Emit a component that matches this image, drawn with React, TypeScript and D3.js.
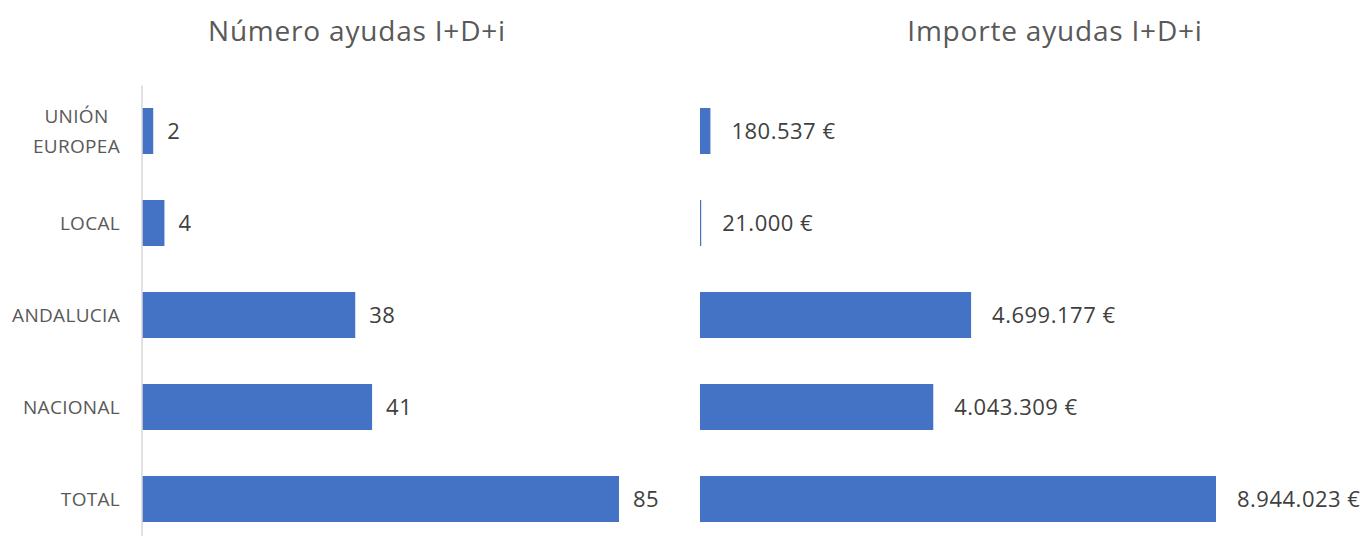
import React, { useRef, useEffect } from 'react';
import * as d3 from 'd3';

// categorías (de arriba a abajo)
const categorias = ['UNIÓN EUROPEA', 'LOCAL', 'ANDALUCIA', 'NACIONAL', 'TOTAL'];
const numeroAyudas = [2, 4, 38, 41, 85];
const importeAyudas = [180537, 21000, 4699177, 4043309, 8944023];
const titulos = ['Número ayudas I+D+i', 'Importe ayudas I+D+i'];

const FONT = '"Open Sans", "Segoe UI", sans-serif';
const AZUL = '#4472C4';

const fmtEuro = (v: number) =>
  d3.formatLocale({ decimal: ',', thousands: '.', grouping: [3], currency: ['', ' €'] }).format(',d')(v) + ' €';

const App = () => {
  const ref = useRef<SVGSVGElement>(null);

  useEffect(() => {
    const svg = d3.select(ref.current);
    svg.selectAll('*').remove();

    const y = d3.scaleBand<string>()
      .domain(categorias)
      .range([85, 545])
      .paddingInner(0.5)
      .paddingOuter(0.25);

    const paneles = [
      { datos: numeroAyudas, x0: 141, x1: 618, titleX: 357, gap: 15, fmt: (v: number) => String(v), eje: true },
      { datos: importeAyudas, x0: 700, x1: 1216, titleX: 1055, gap: 21, fmt: fmtEuro, eje: false },
    ];

    paneles.forEach((p, i) => {
      const x = d3.scaleLinear()
        .domain([0, d3.max(p.datos) as number])
        .range([p.x0, p.x1]);

      const g = svg.append('g');

      g.append('text')
        .attr('x', p.titleX)
        .attr('y', 41)
        .attr('text-anchor', 'middle')
        .style('font-family', FONT)
        .style('font-size', '28px')
        .style('letter-spacing', '0.8px')
        .style('fill', '#595959')
        .text(titulos[i]);

      g.selectAll('rect')
        .data(p.datos)
        .enter()
        .append('rect')
        .attr('x', x(0) + (p.eje ? 1 : 0))
        .attr('y', (d, j) => y(categorias[j]) as number)
        .attr('width', d => Math.max(1, x(d) - x(0)))
        .attr('height', y.bandwidth())
        .attr('fill', AZUL);

      g.selectAll('text.valor')
        .data(p.datos)
        .enter()
        .append('text')
        .attr('class', 'valor')
        .attr('x', d => x(d) + p.gap)
        .attr('y', (d, j) => (y(categorias[j]) as number) + y.bandwidth() / 2)
        .attr('dy', '0.35em')
        .style('font-family', FONT)
        .style('font-size', '22px')
        .style('letter-spacing', '0.5px')
        .style('fill', '#404040')
        .text(d => p.fmt(d));

      if (p.eje) {
        const axis = d3.axisLeft(y).tickSize(0).tickFormat(() => '');
        const ga = g.append('g')
          .attr('transform', `translate(${x(0) + 0.5},0)`)
          .call(axis);
        ga.select('.domain').attr('stroke', '#d9d9d9').attr('stroke-width', 1.5);

        // etiquetas de categoría (centradas entre líneas, alineadas a la derecha)
        categorias.forEach(c => {
          const lineas = c === 'UNIÓN EUROPEA' ? ['UNIÓN', 'EUROPEA'] : [c];
          const cy = (y(c) as number) + y.bandwidth() / 2;
          const t = g.append('text')
            .attr('text-anchor', 'middle')
            .style('font-family', FONT)
            .style('font-size', '19px')
            .style('letter-spacing', '0.3px')
            .style('fill', '#595959');
          lineas.forEach((l, k) => {
            t.append('tspan')
              .attr('x', 0)
              .attr('y', cy + (k - (lineas.length - 1) / 2) * 30)
              .attr('dy', '0.35em')
              .text(l);
          });
          const w = (t.node() as SVGTextElement).getBBox().width;
          t.attr('transform', `translate(${120 - w / 2},0)`);
        });
      }
    });
  }, []);

  return (
    <svg
      ref={ref}
      width={1368}
      height={536}
      style={{ position: 'absolute', left: 0, top: 0, background: '#fff' }}
    />
  );
};

export default App;
